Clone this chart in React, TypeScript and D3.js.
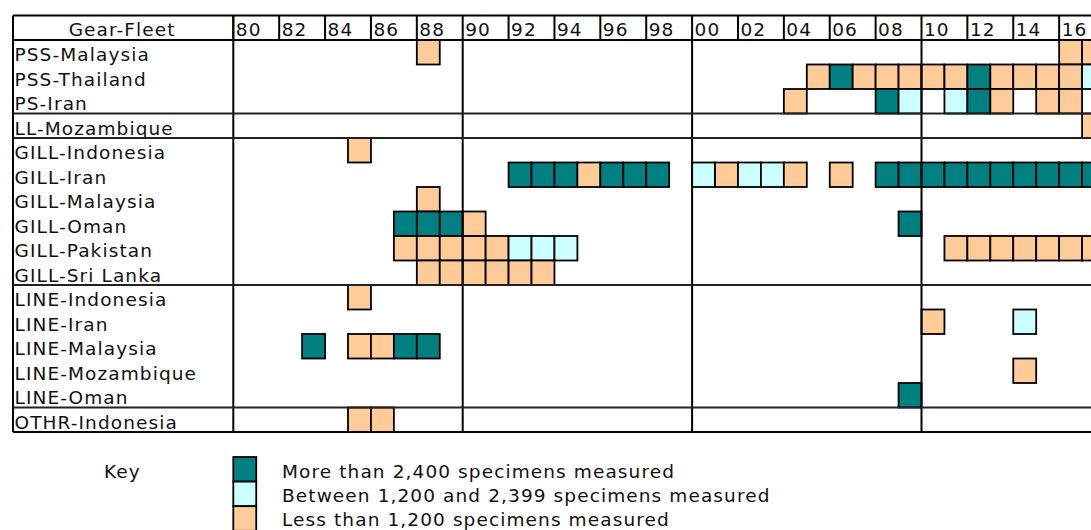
import React from "react";
import * as d3 from "d3";

type Level = "H" | "M" | "L";
type Sample = [number, Level];

const fleets = [
  "PSS-Malaysia", "PSS-Thailand", "PS-Iran", "LL-Mozambique",
  "GILL-Indonesia", "GILL-Iran", "GILL-Malaysia", "GILL-Oman", "GILL-Pakistan", "GILL-Sri Lanka",
  "LINE-Indonesia", "LINE-Iran", "LINE-Malaysia", "LINE-Mozambique", "LINE-Oman",
  "OTHR-Indonesia",
];

const yearTicks = ["80", "82", "84", "86", "88", "90", "92", "94", "96", "98", "00", "02", "04", "06", "08", "10", "12", "14", "16"];
const firstYear = 1980;
const lastYear = 2017;
const decadeLines = [1990, 2000, 2010];
const groupBreaks = ["LL-Mozambique", "GILL-Indonesia", "LINE-Indonesia", "OTHR-Indonesia"];

const pssMalaysia: Sample[] = [[1988, "L"], [2016, "L"], [2017, "L"]];
const pssThailand: Sample[] = [[2005, "L"], [2006, "H"], [2007, "L"], [2008, "L"], [2009, "L"], [2010, "L"], [2011, "L"], [2012, "H"], [2013, "L"], [2014, "L"], [2015, "L"], [2016, "L"], [2017, "M"]];
const psIran: Sample[] = [[2004, "L"], [2008, "H"], [2009, "M"], [2011, "M"], [2012, "H"], [2013, "L"], [2015, "L"], [2016, "L"]];
const llMozambique: Sample[] = [[2017, "L"]];
const gillIndonesia: Sample[] = [[1985, "L"]];
const gillIran: Sample[] = [[1992, "H"], [1993, "H"], [1994, "H"], [1995, "L"], [1996, "H"], [1997, "H"], [1998, "H"], [2000, "M"], [2001, "L"], [2002, "M"], [2003, "M"], [2004, "L"], [2006, "L"], [2008, "H"], [2009, "H"], [2010, "H"], [2011, "H"], [2012, "H"], [2013, "H"], [2014, "H"], [2015, "H"], [2016, "H"], [2017, "H"]];
const gillMalaysia: Sample[] = [[1988, "L"]];
const gillOman: Sample[] = [[1987, "H"], [1988, "H"], [1989, "H"], [1990, "L"], [2009, "H"]];
const gillPakistan: Sample[] = [[1987, "L"], [1988, "L"], [1989, "L"], [1990, "L"], [1991, "L"], [1992, "M"], [1993, "M"], [1994, "M"], [2011, "L"], [2012, "L"], [2013, "L"], [2014, "L"], [2015, "L"], [2016, "L"], [2017, "L"]];
const gillSriLanka: Sample[] = [[1988, "L"], [1989, "L"], [1990, "L"], [1991, "L"], [1992, "L"], [1993, "L"]];
const lineIndonesia: Sample[] = [[1985, "L"]];
const lineIran: Sample[] = [[2010, "L"], [2014, "M"]];
const lineMalaysia: Sample[] = [[1983, "H"], [1985, "L"], [1986, "L"], [1987, "H"], [1988, "H"]];
const lineMozambique: Sample[] = [[2014, "L"]];
const lineOman: Sample[] = [[2009, "H"]];
const othrIndonesia: Sample[] = [[1985, "L"], [1986, "L"]];

const samples: Record<string, Sample[]> = {
  "PSS-Malaysia": pssMalaysia,
  "PSS-Thailand": pssThailand,
  "PS-Iran": psIran,
  "LL-Mozambique": llMozambique,
  "GILL-Indonesia": gillIndonesia,
  "GILL-Iran": gillIran,
  "GILL-Malaysia": gillMalaysia,
  "GILL-Oman": gillOman,
  "GILL-Pakistan": gillPakistan,
  "GILL-Sri Lanka": gillSriLanka,
  "LINE-Indonesia": lineIndonesia,
  "LINE-Iran": lineIran,
  "LINE-Malaysia": lineMalaysia,
  "LINE-Mozambique": lineMozambique,
  "LINE-Oman": lineOman,
  "OTHR-Indonesia": othrIndonesia,
};

const levels: Level[] = ["H", "M", "L"];
const levelLabels = [
  "More than 2,400 specimens measured",
  "Between 1,200 and 2,399 specimens measured",
  "Less than 1,200 specimens measured",
];
const levelColors = ["#008080", "#CCFFFF", "#FFCC99"];

const W = 1091;
const H = 530;
const FONT = "'DejaVu Sans', Verdana, sans-serif";
const LS = "1.1px";

export default function App() {
  const left = 13;
  const labelRight = 233.3;
  const yearW = 22.94;
  const top = 15.5;
  const headerBottom = 40;
  const bodyBottom = 432;

  const x = d3.scaleLinear().domain([firstYear, lastYear + 1]).range([labelRight, labelRight + (lastYear + 1 - firstYear) * yearW]);
  const y = d3.scaleBand<string>().domain(fleets).range([headerBottom, bodyBottom]).padding(0);
  const color = d3.scaleOrdinal<Level, string>().domain(levels).range(levelColors);
  const tickYear = (t: string) => (+t < 50 ? 2000 + +t : 1900 + +t);

  const lineStyle = { stroke: "#000", strokeWidth: 2 };
  const textStyle: React.CSSProperties = { fontFamily: FONT, fontSize: 18.5, letterSpacing: LS, fill: "#111" };

  const legendTop = 457;
  const legendH = 24.6;

  return (
    <svg width={W} height={H} style={{ position: "absolute", left: 0, top: 0, background: "#fff" }}>
      <rect x={0} y={0} width={W} height={H} fill="#fff" />
      {/* cells */}
      {fleets.map((f) =>
        samples[f].map(([yr, lv]) => (
          <rect
            key={f + yr}
            x={x(yr)}
            y={y(f)!}
            width={x(yr + 1) - x(yr)}
            height={y.bandwidth()}
            fill={color(lv)}
            stroke="#000"
            strokeWidth={1.8}
          />
        ))
      )}
      {/* header frame */}
      <line x1={left} x2={W} y1={top} y2={top} {...lineStyle} />
      <line x1={left} x2={W} y1={headerBottom} y2={headerBottom} {...lineStyle} />
      {yearTicks.map((t) => (
        <line key={"ht" + t} x1={x(tickYear(t))} x2={x(tickYear(t))} y1={top} y2={headerBottom} {...lineStyle} />
      ))}
      {/* body frame */}
      <line x1={left} x2={left} y1={top} y2={bodyBottom} {...lineStyle} />
      <line x1={labelRight} x2={labelRight} y1={top} y2={bodyBottom} {...lineStyle} />
      {decadeLines.map((d) => (
        <line key={"dl" + d} x1={x(d)} x2={x(d)} y1={headerBottom} y2={bodyBottom} {...lineStyle} />
      ))}
      {groupBreaks.map((g) => (
        <line key={"gb" + g} x1={left} x2={W} y1={y(g)!} y2={y(g)!} stroke="#222" strokeWidth={2} />
      ))}
      <line x1={left} x2={W} y1={bodyBottom} y2={bodyBottom} {...lineStyle} />
      {/* header text */}
      <text x={(left + labelRight) / 2 - 1} y={36} textAnchor="middle" style={textStyle}>Gear-Fleet</text>
      {yearTicks.map((t) => (
        <text key={"yt" + t} x={x(tickYear(t)) + 2.5} y={36} style={textStyle}>{t}</text>
      ))}
      {/* row labels */}
      {fleets.map((f) => (
        <text key={"rl" + f} x={left + 1.5} y={y(f)! + 21} style={textStyle}>{f}</text>
      ))}
      {/* legend */}
      <text x={104} y={478} style={textStyle}>Key</text>
      {levels.map((lv, i) => (
        <g key={"lg" + lv}>
          <rect
            x={x(firstYear)}
            y={legendTop + i * legendH}
            width={x(firstYear + 1) - x(firstYear)}
            height={legendH}
            fill={color(lv)}
            stroke="#000"
            strokeWidth={1.8}
          />
          <text x={282} y={478 + i * 24} style={textStyle}>{levelLabels[i]}</text>
        </g>
      ))}
    </svg>
  );
}
